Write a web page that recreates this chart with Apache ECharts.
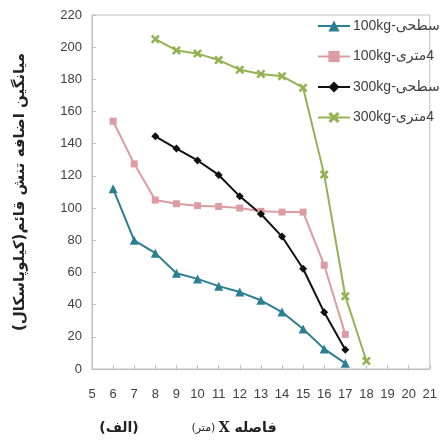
<!DOCTYPE html>
<html>
<head>
<meta charset="utf-8">
<script src="https://cdn.jsdelivr.net/npm/echarts@6/dist/echarts.min.js"></script>
<style>
  html, body { margin: 0; padding: 0; background: #fff; }
  #chart { width: 440px; height: 443px; }
</style>
</head>
<body>
<div id="chart"></div>
<script>
// distance X (m)
const xValues = [6, 7, 8, 9, 10, 11, 12, 13, 14, 15, 16, 17, 18];

// mean added vertical stress (kPa) per series, paired with xValues
const surface100 = [112, 80, 72, 59.5, 56, 51.5, 47.8, 42.7, 35.4, 24.8, 12.5, 3.5, null];
const depth100   = [154, 127.5, 105, 102.7, 101.5, 101, 100, 98, 97.5, 97.5, 64.5, 21.5, null];
const surface300 = [null, null, 144.6, 137, 129.6, 120.6, 107.3, 96.3, 82.3, 62.3, 35.2, 12, null];
const depth300   = [null, null, 205, 198, 196, 192, 186, 183.3, 182, 174.8, 120.8, 45.2, 5];

const seriesNames = ['100kg-سطحی', '100kg-\u202B4متری\u202C', '300kg-سطحی', '300kg-\u202B4متری\u202C'];
const seriesColors = ['#2b7f92', '#dd9ca2', '#111111', '#93b352'];

const yTicks = { min: 0, max: 220, interval: 20 };
const xTicks = { min: 5, max: 21, interval: 1 };

const crossPath = 'path://M2,0 L5,3 L8,0 L10,2 L7,5 L10,8 L8,10 L5,7 L2,10 L0,8 L3,5 L0,2 Z';
const symbols = ['triangle', 'rect', 'diamond', crossPath];
const symbolSizes = [9, 7, 8, 9];
const valueSets = [surface100, depth100, surface300, depth300];

const pair = (vals) => xValues.map((x, i) => [x, vals[i]]).filter(p => p[1] !== null);

const chart = echarts.init(document.getElementById('chart'), null, { renderer: 'canvas' });

const tickFont = { fontFamily: 'Liberation Sans, DejaVu Sans, sans-serif', fontSize: 13, color: '#404040' };

chart.setOption({
  animation: false,
  backgroundColor: '#ffffff',
  grid: {
    left: 92, top: 15, right: 8, bottom: 74,
    show: true, borderColor: '#bfbfbf', borderWidth: 1, backgroundColor: 'transparent'
  },
  legend: {
    orient: 'vertical',
    left: 317,
    top: 19,
    padding: 0,
    itemWidth: 32,
    itemHeight: 14,
    itemGap: 16.5,
    textStyle: { fontFamily: 'Liberation Sans Narrow, Liberation Sans, DejaVu Sans, sans-serif', fontSize: 14, color: '#404040', padding: [0, 0, 0, -2] },
    data: seriesNames
  },
  xAxis: {
    type: 'value',
    min: xTicks.min, max: xTicks.max, interval: xTicks.interval,
    axisLine: { lineStyle: { color: '#bfbfbf', width: 1 } },
    axisTick: { inside: true, length: 4, lineStyle: { color: '#bfbfbf' } },
    axisLabel: Object.assign({ margin: 19 }, tickFont),
    splitLine: { show: false }
  },
  yAxis: {
    type: 'value',
    min: yTicks.min, max: yTicks.max, interval: yTicks.interval,
    axisLine: { show: true, lineStyle: { color: '#bfbfbf', width: 1 } },
    axisTick: { show: true, inside: true, length: 4, lineStyle: { color: '#bfbfbf' } },
    axisLabel: Object.assign({ margin: 10 }, tickFont),
    splitLine: { show: false }
  },
  series: valueSets.map((vals, i) => ({
    name: seriesNames[i],
    type: 'line',
    data: pair(vals),
    symbol: symbols[i],
    symbolSize: symbolSizes[i],
    showAllSymbol: true,
    color: seriesColors[i],
    lineStyle: { width: 2, color: seriesColors[i] },
    itemStyle: { color: seriesColors[i] }
  })),
  graphic: [
    {
      type: 'text',
      x: 20, y: 192,
      rotation: Math.PI / 2,
      style: {
        text: 'میانگین اضافه تنش قائم(کیلوپاسکال)\u200F',
        font: 'bold 15px "DejaVu Sans", sans-serif',
        fill: '#222',
        align: 'center',
        verticalAlign: 'middle'
      }
    },
    {
      type: 'text',
      x: 234, y: 428,
      style: {
        text: '{s|(متر)} {b|X فاصله}',
        align: 'center',
        verticalAlign: 'middle',
        rich: {
          s: { font: '11px "DejaVu Sans", sans-serif', fill: '#222' },
          b: { font: 'bold 14px "DejaVu Serif", "DejaVu Sans", serif', fill: '#222' }
        }
      }
    },
    {
      type: 'text',
      x: 119, y: 428,
      style: {
        text: '(الف)',
        font: 'bold 14px "DejaVu Sans", sans-serif',
        fill: '#222',
        align: 'center',
        verticalAlign: 'middle'
      }
    }
  ]
});
</script>
</body>
</html>
